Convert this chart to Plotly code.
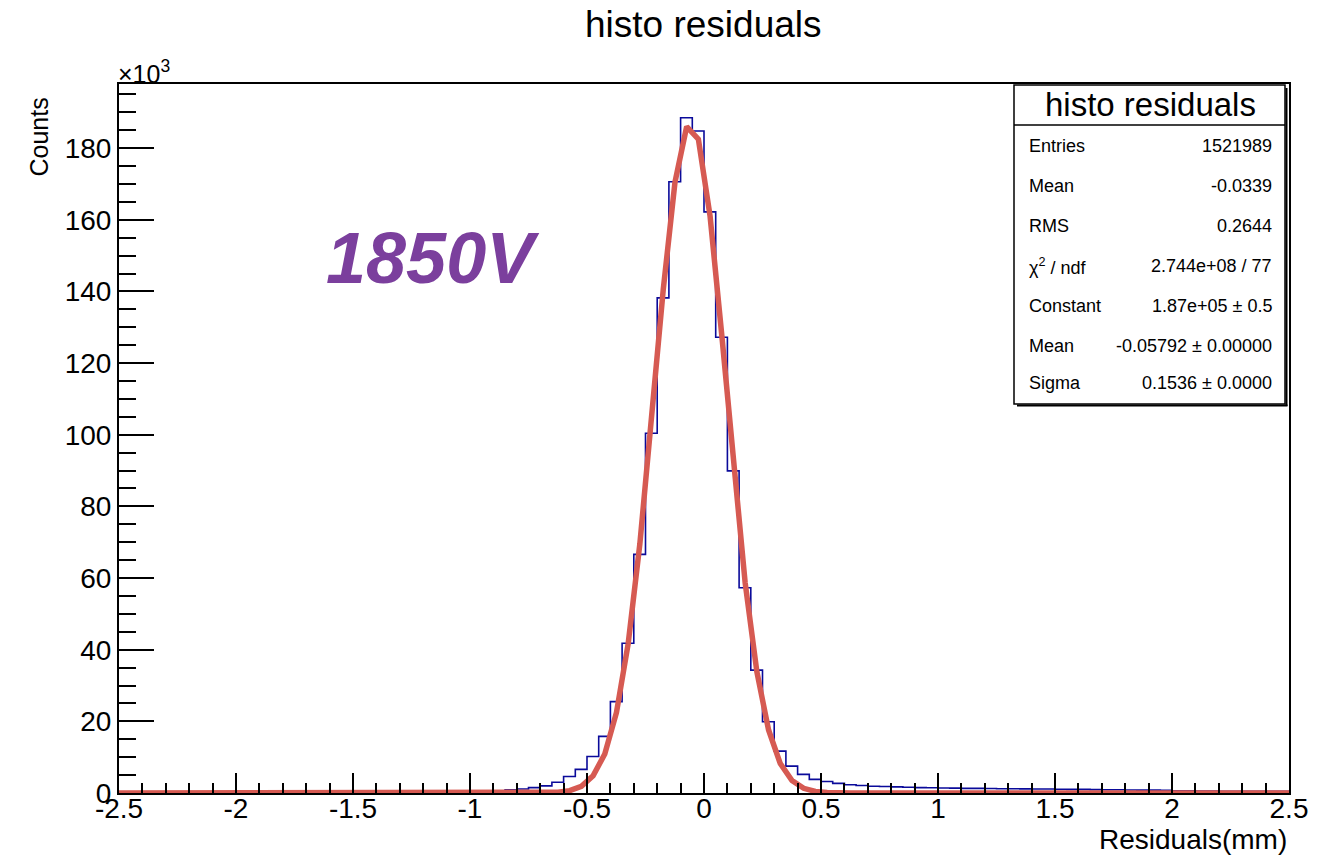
import plotly.graph_objects as go

# ---------------- data (counts in units of 10^3) ----------------
bin_lo = -2.5
bin_width = 0.05
counts_k = (
    [0.0] * 26 +
    [0.1, 0.15, 0.2, 0.3, 0.35, 0.45, 0.55,          # -1.20 .. -0.85
     0.9, 1.1, 1.5, 2.0, 3.0, 4.6, 6.6, 10.2,        # -0.85 .. -0.45
     15.8, 25.5, 41.8, 66.6, 100.4, 138.2, 170.6,    # -0.45 .. -0.10
     188.5, 184.8, 162.2, 127.2, 89.9, 57.3,         # -0.10 ..  0.20
     34.3, 19.9, 11.7, 7.5, 5.2, 3.8, 3.2, 2.7,      #  0.20 ..  0.60
     2.3, 2.1, 1.9, 1.8, 1.7, 1.6, 1.5, 1.45,        #  0.60 ..  1.00
     1.4, 1.35, 1.3, 1.3, 1.25, 1.2, 1.2, 1.15, 1.1, 1.1,
     1.05, 1.0, 1.0, 0.95, 0.9, 0.9, 0.85, 0.8, 0.8, 0.75,
     0.6, 0.6, 0.55, 0.55, 0.5, 0.5, 0.5, 0.45, 0.45, 0.45]
)

# fitted gaussian curve, as drawn (polyline vertices), in 10^3
fit_x = [-2.5, -0.774, -0.724, -0.674, -0.624, -0.574, -0.524, -0.474, -0.424,
         -0.374, -0.324, -0.274, -0.224, -0.174, -0.124, -0.074, -0.024,
         0.026, 0.076, 0.126, 0.176, 0.226, 0.276, 0.326, 0.376, 0.426,
         0.476, 0.526, 0.576, 0.626, 2.5]
fit_y = [0.0, 0.0, 0.02, 0.06, 0.21, 0.66, 1.88, 4.78, 10.9,
         22.5, 41.7, 69.6, 104.3, 140.6, 170.5, 186.0, 182.5,
         161.0, 127.8, 91.3, 58.6, 33.8, 17.6, 8.2, 3.46, 1.31,
         0.44, 0.14, 0.04, 0.0, 0.0]

x_tickvals = [-2.5, -2, -1.5, -1, -0.5, 0, 0.5, 1, 1.5, 2, 2.5]
x_ticktext = ["-2.5", "-2", "-1.5", "-1", "-0.5", "0", "0.5", "1", "1.5", "2", "2.5"]
y_tickvals = [0, 20, 40, 60, 80, 100, 120, 140, 160, 180]
y_ticktext = ["0", "20", "40", "60", "80", "100", "120", "140", "160", "180"]

stats_labels = ["Entries", "Mean", "RMS", "χ<sup>2</sup> / ndf", "Constant", "Mean", "Sigma"]
stats_values = ["1521989", "-0.0339", "0.2644", "2.744e+08 / 77", "1.87e+05 ± 0.5",
                "-0.05792 ± 0.00000", "0.1536 ± 0.0000"]

# ---------------- layout geometry ----------------
W, H = 1334, 857
L, R, T, B = 119, 1289, 84, 793
FONT = "Liberation Sans, Arial, Helvetica, sans-serif"


def px(xp):
    return (xp - L) / (R - L)


def py(yp):
    return (B - yp) / (B - T)


# histogram as step outline
nb = len(counts_k)
edges = [bin_lo + i * bin_width for i in range(nb + 1)]
hist_y = counts_k + [counts_k[-1]]

fig = go.Figure()
fig.add_trace(go.Scatter(x=edges, y=hist_y, mode="lines", line_shape="hv",
                         line=dict(color="#0a0a9a", width=1.6), hoverinfo="skip",
                         showlegend=False))
fig.add_trace(go.Scatter(x=fit_x, y=fit_y, mode="lines",
                         line=dict(color="#d65a52", width=5.5), hoverinfo="skip",
                         showlegend=False))

fig.update_layout(
    width=W, height=H,
    margin=dict(l=L, r=W - R, t=T, b=H - B),
    paper_bgcolor="white", plot_bgcolor="white",
    font=dict(family=FONT, color="black"),
    showlegend=False,
)
fig.update_xaxes(range=[-2.5, 2.5], showgrid=False, zeroline=False,
                 showline=True, mirror=True, linecolor="black", linewidth=2,
                 ticks="inside", ticklen=20, tickwidth=2, tickcolor="black",
                 tickvals=x_tickvals, ticktext=x_ticktext,
                 tickfont=dict(size=28, family=FONT), ticklabelstandoff=-11,
                 minor=dict(dtick=0.1, ticks="inside", ticklen=10, tickwidth=2,
                            tickcolor="black", showgrid=False))
fig.update_yaxes(range=[0, 197.9], showgrid=False, zeroline=False,
                 showline=True, mirror=True, linecolor="black", linewidth=2,
                 ticks="inside", ticklen=35, tickwidth=2, tickcolor="black",
                 tickvals=y_tickvals, ticktext=y_ticktext,
                 tickfont=dict(size=28, family=FONT),
                 minor=dict(dtick=5, ticks="inside", ticklen=17, tickwidth=2,
                            tickcolor="black", showgrid=False))

ann = []
ann.append(dict(text="histo residuals", x=px(703), y=py(25), xref="paper", yref="paper",
                xanchor="center", yanchor="middle", showarrow=False,
                font=dict(size=37, family=FONT)))
ann.append(dict(text="Counts", x=px(38), y=py(96), xref="paper", yref="paper",
                xanchor="center", yanchor="top", textangle=-90, showarrow=False,
                font=dict(size=25, family=FONT)))
ann.append(dict(text="Residuals(mm)", x=px(1289), y=py(840), xref="paper", yref="paper",
                xanchor="right", yanchor="middle", showarrow=False,
                font=dict(size=28, family=FONT)))
ann.append(dict(text="×10<sup>3</sup>", x=px(116), y=py(72), xref="paper", yref="paper",
                xanchor="left", yanchor="middle", showarrow=False,
                font=dict(size=25, family=FONT)))
ann.append(dict(text="<b><i>1850V</i></b>", x=px(433), y=py(258), xref="paper", yref="paper",
                xanchor="center", yanchor="middle", showarrow=False,
                font=dict(size=72, family=FONT, color="#7b3f9d")))

# stats box
bx0, bx1, by0, by1 = 1014, 1285, 85, 404
shapes = [
    dict(type="rect", xref="paper", yref="paper", x0=px(bx0), x1=px(bx1), y0=py(by1), y1=py(by0),
         line=dict(color="black", width=1.5), fillcolor="white", layer="above"),
    dict(type="line", xref="paper", yref="paper", x0=px(bx0), x1=px(bx1), y0=py(125), y1=py(125),
         line=dict(color="black", width=1.5), layer="above"),
    dict(type="line", xref="paper", yref="paper", x0=px(bx1 + 1.5), x1=px(bx1 + 1.5),
         y0=py(by1 + 2), y1=py(by0 + 3), line=dict(color="black", width=2), layer="above"),
    dict(type="line", xref="paper", yref="paper", x0=px(bx0 + 3), x1=px(bx1 + 2.5),
         y0=py(by1 + 1.5), y1=py(by1 + 1.5), line=dict(color="black", width=2), layer="above"),
]
ann.append(dict(text="histo residuals", x=px(1150), y=py(105), xref="paper", yref="paper",
                xanchor="center", yanchor="middle", showarrow=False,
                font=dict(size=33, family=FONT)))
row_y = [146, 186, 226, 266, 306, 346, 383]
for lab, val, yy in zip(stats_labels, stats_values, row_y):
    ann.append(dict(text=lab, x=px(1027), y=py(yy), xref="paper", yref="paper",
                    xanchor="left", yanchor="middle", showarrow=False,
                    font=dict(size=18, family=FONT)))
    ann.append(dict(text=val, x=px(1274), y=py(yy), xref="paper", yref="paper",
                    xanchor="right", yanchor="middle", showarrow=False,
                    font=dict(size=18, family=FONT)))

fig.update_layout(annotations=ann, shapes=shapes)
fig.write_html("out.html")
